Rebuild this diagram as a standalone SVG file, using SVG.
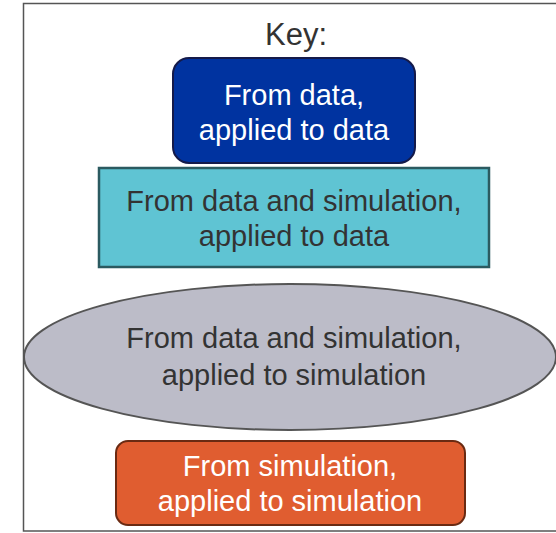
<svg xmlns="http://www.w3.org/2000/svg" width="556" height="533" viewBox="0 0 556 533">
<style>
text{font-family:"Liberation Sans",Arial,sans-serif;font-size:29px;text-anchor:middle}
.dk{fill:#333333}
.wt{fill:#ffffff}
</style>
<rect width="556" height="533" fill="#ffffff"/>
<g id="frame" fill="none" stroke="#555555" stroke-width="1.5">
<polyline points="556,3.5 23.5,3.5 23.5,531 556,531"/>
</g>
<g id="title"><text x="296" y="45" class="dk" style="font-size:31px">Key:</text></g>
<g id="node-data">
<rect x="173" y="58" width="242" height="105" rx="16" fill="#0033a0" stroke="#141a4a" stroke-width="2"/>
<text x="294" y="105" class="wt">From data,</text>
<text x="294" y="140" class="wt">applied to data</text>
</g>
<g id="node-datasim-data">
<rect x="99" y="168" width="390" height="99" fill="#5fc4d3" stroke="#2b5a60" stroke-width="2.5"/>
<text x="294" y="211" class="dk">From data and simulation,</text>
<text x="294" y="246" class="dk">applied to data</text>
</g>
<g id="node-datasim-sim">
<ellipse cx="290" cy="357" rx="266" ry="73" fill="#bcbcc8" stroke="#555555" stroke-width="2"/>
<text x="294" y="348" class="dk">From data and simulation,</text>
<text x="294" y="385" class="dk">applied to simulation</text>
</g>
<g id="node-sim">
<rect x="116" y="441" width="349" height="84" rx="12" fill="#e05d30" stroke="#6a2a12" stroke-width="2"/>
<text x="290" y="476" class="wt">From simulation,</text>
<text x="290" y="511" class="wt">applied to simulation</text>
</g>
<g id="connectors"/>
</svg>
